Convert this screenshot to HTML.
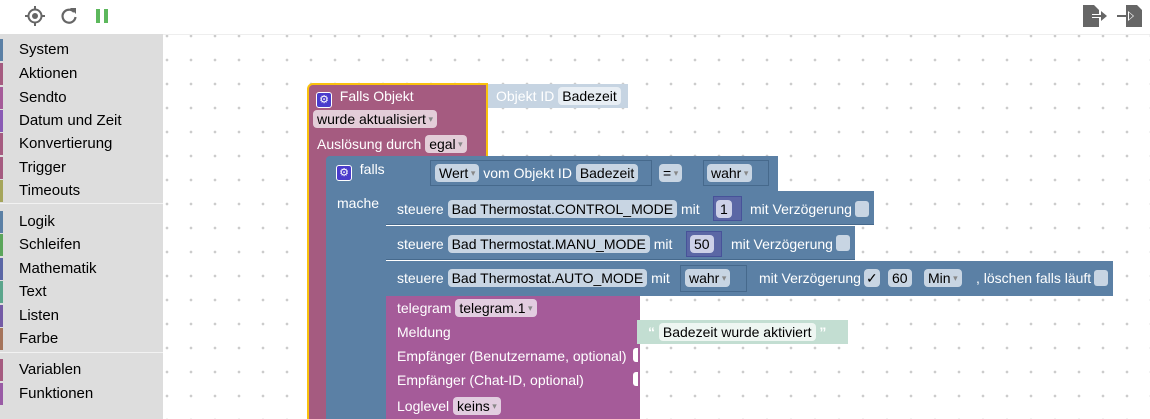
<!DOCTYPE html><html><head><style>
*{box-sizing:border-box;margin:0;padding:0}
body{width:1150px;height:419px;overflow:hidden;position:relative;background:#fff;font-family:"Liberation Sans",sans-serif}
.ws{position:absolute;left:163px;top:34px;width:987px;height:385px;background-color:#fff;background-image:radial-gradient(circle,#ccc 1.1px,transparent 1.6px);background-size:24px 24px;background-position:-8px -11px;border-top:1px solid #eee}
.side{position:absolute;left:0;top:36px;width:163px;height:383px;background:#ddd}
.sbg{position:absolute;left:0;top:34px;width:163px;height:385px;background:#ddd}
.it{position:absolute;left:0;height:22px;width:163px;font-size:15px;color:#000;padding-left:19px;line-height:22px}
.it:before{content:"";position:absolute;left:0;top:0;width:3px;height:22px;background:var(--c)}
.sep{position:absolute;left:0;width:163px;height:1px;background:#f2f2f2}
.b{position:absolute}
.t{position:absolute;color:#fff;font-size:14px;white-space:nowrap;line-height:18px}
.f{display:inline-block;border-radius:4px;padding:0 4px;color:#000;line-height:18px;font-size:14px}
.dd:after{content:" ▾";font-size:9px;color:#888;vertical-align:2px}
.gear{display:inline-block;width:16px;height:16px;background:#4a3ccc;border:1px solid #fff;border-radius:3px;color:#fff;font-size:11px;text-align:center;line-height:14px;vertical-align:-2px}
</style></head><body>
<svg style="position:absolute;left:25px;top:6px" width="20" height="20" viewBox="0 0 20 20"><circle cx="10" cy="10" r="6.5" fill="none" stroke="#666" stroke-width="2"/><circle cx="10" cy="10" r="3" fill="#666"/><path d="M10 0v4M10 16v4M0 10h4M16 10h4" stroke="#666" stroke-width="2"/></svg>
<svg style="position:absolute;left:60px;top:7px" width="18" height="18" viewBox="0 0 18 18"><path d="M14 5A6.5 6.5 0 1 0 15.5 10" fill="none" stroke="#666" stroke-width="2.2"/><path d="M10 1h6v6z" fill="#666"/></svg>
<div style="position:absolute;left:96px;top:9px;width:4px;height:14px;background:#5cb85c"></div>
<div style="position:absolute;left:104px;top:9px;width:4px;height:14px;background:#5cb85c"></div>
<svg style="position:absolute;left:1083px;top:5px" width="26" height="22" viewBox="0 0 26 22"><path d="M0 0h11l5 5v17H0z" fill="#666"/><path d="M9 11h11" stroke="#fff" stroke-width="4"/><path d="M9 11h11" stroke="#666" stroke-width="2"/><path d="M18 6l6 5-6 5z" fill="#666"/></svg>
<svg style="position:absolute;left:1117px;top:5px" width="26" height="22" viewBox="0 0 26 22"><path d="M9 0h11l5 5v17H9z" fill="#666"/><path d="M0 11h13" stroke="#666" stroke-width="2"/><path d="M11 6l6 5-6 5z" fill="#fff"/><path d="M12 7.5l4 3.5-4 3.5z" fill="#666"/></svg>
<div class="ws"></div>
<div class="sbg"></div>
<div class="side">
<div class="it" style="top:3px;--c:#5b80a5">System</div>
<div class="it" style="top:27px;--c:#a55b80">Aktionen</div>
<div class="it" style="top:51px;--c:#a55b99">Sendto</div>
<div class="it" style="top:74px;--c:#8a5bb5">Datum und Zeit</div>
<div class="it" style="top:97px;--c:#a55b80">Konvertierung</div>
<div class="it" style="top:121px;--c:#a55b80">Trigger</div>
<div class="it" style="top:144px;--c:#a5a55b">Timeouts</div>
<div class="sep" style="top:167px"></div>
<div class="it" style="top:175px;--c:#5b80a5">Logik</div>
<div class="it" style="top:198px;--c:#5ba55b">Schleifen</div>
<div class="it" style="top:222px;--c:#5b67a5">Mathematik</div>
<div class="it" style="top:245px;--c:#5ba58c">Text</div>
<div class="it" style="top:269px;--c:#745ba5">Listen</div>
<div class="it" style="top:292px;--c:#a5745b">Farbe</div>
<div class="sep" style="top:316px"></div>
<div class="it" style="top:323px;--c:#a55b80">Variablen</div>
<div class="it" style="top:347px;--c:#995ba5">Funktionen</div>
</div>
<!-- Objekt ID block -->
<div class="b" style="left:484px;top:84px;width:144px;height:24px;background:#c6d4e2"></div>
<div class="t" style="left:496px;top:87px;color:#fff">Objekt ID <span class="f" style="background:#e8eef4">Badezeit</span></div>
<!-- outer trigger block -->
<div class="b" style="left:307px;top:83px;width:181px;height:74px;background:#a55b80;border:2px solid #f9c10e;border-bottom:none;border-radius:6px 0 0 0"></div>
<div class="b" style="left:307px;top:150px;width:21px;height:269px;background:#a55b80;border-left:2px solid #f9c10e"></div>
<div class="t" style="left:316px;top:87px"><span class="gear">⚙</span>&nbsp; Falls Objekt</div>
<div class="t" style="left:313px;top:110px"><span class="f dd" style="background:#e3cdd8">wurde aktualisiert</span></div>
<div class="t" style="left:317px;top:135px">Auslösung durch <span class="f dd" style="background:#e3cdd8">egal</span></div>
<!-- falls block -->
<div class="b" style="left:326px;top:156px;width:452px;height:35px;background:#5b80a5;border-radius:4px 0 0 0"></div>
<div class="b" style="left:326px;top:190px;width:60px;height:229px;background:#5b80a5"></div>
<div class="t" style="left:336px;top:160px"><span class="gear">⚙</span>&nbsp; falls</div>
<div class="t" style="left:337px;top:194px">mache</div>
<div class="b" style="left:430px;top:160px;width:222px;height:26px;background:#5b80a5;border:1px solid #46698c"></div>
<div class="t" style="left:435px;top:164px"><span class="f dd" style="background:#c8d5e3">Wert</span> vom Objekt ID <span class="f" style="background:#c8d5e3">Badezeit</span></div>
<div class="t" style="left:659px;top:164px"><span class="f dd" style="background:#c8d5e3">=</span></div>
<div class="b" style="left:703px;top:160px;width:66px;height:26px;background:#5b80a5;border:1px solid #46698c"></div>
<div class="t" style="left:707px;top:164px"><span class="f dd" style="background:#c8d5e3">wahr</span></div>
<!-- steuere rows -->
<div class="b" style="left:386px;top:191px;width:488px;height:34px;background:#5b80a5;border-bottom:1px solid #46698c"></div>
<div class="t" style="left:397px;top:200px">steuere <span class="f" style="background:#c8d5e3">Bad Thermostat.CONTROL_MODE</span> mit</div>
<div class="b" style="left:713px;top:196px;width:29px;height:25px;background:#5b67a5;border:1px solid #475299"></div>
<div class="t" style="left:716px;top:200px"><span class="f" style="background:#cdd1e8">1</span></div>
<div class="t" style="left:750px;top:200px">mit Verzögerung</div>
<div class="b" style="left:855px;top:201px;width:14px;height:16px;background:#c8d5e3;border-radius:3px"></div>
<div class="b" style="left:386px;top:226px;width:469px;height:34px;background:#5b80a5;border-bottom:1px solid #46698c"></div>
<div class="t" style="left:397px;top:235px">steuere <span class="f" style="background:#c8d5e3">Bad Thermostat.MANU_MODE</span> mit</div>
<div class="b" style="left:686px;top:231px;width:36px;height:26px;background:#5b67a5;border:1px solid #475299"></div>
<div class="t" style="left:690px;top:235px"><span class="f" style="background:#cdd1e8">50</span></div>
<div class="t" style="left:731px;top:235px">mit Verzögerung</div>
<div class="b" style="left:836px;top:235px;width:14px;height:16px;background:#c8d5e3;border-radius:3px"></div>
<div class="b" style="left:386px;top:261px;width:727px;height:35px;background:#5b80a5"></div>
<div class="t" style="left:397px;top:269px">steuere <span class="f" style="background:#c8d5e3">Bad Thermostat.AUTO_MODE</span> mit</div>
<div class="b" style="left:680px;top:265px;width:67px;height:27px;background:#5b80a5;border:1px solid #46698c"></div>
<div class="t" style="left:685px;top:269px"><span class="f dd" style="background:#c8d5e3">wahr</span></div>
<div class="t" style="left:759px;top:269px">mit Verzögerung</div>
<div class="t" style="left:864px;top:269px"><span class="f" style="background:#c8d5e3;padding:0 2px">✓</span></div>
<div class="t" style="left:888px;top:269px"><span class="f" style="background:#c8d5e3">60</span></div>
<div class="t" style="left:924px;top:269px"><span class="f dd" style="background:#c8d5e3">Min</span></div>
<div class="t" style="left:976px;top:269px">, löschen falls läuft</div>
<div class="b" style="left:1094px;top:270px;width:14px;height:16px;background:#c8d5e3;border-radius:3px"></div>
<!-- telegram -->
<div class="b" style="left:386px;top:296px;width:254px;height:123px;background:#a55b99"></div>
<div class="t" style="left:397px;top:299px">telegram <span class="f dd" style="background:#e2cde0">telegram.1</span></div>
<div class="t" style="left:397px;top:323px">Meldung</div>
<div class="t" style="left:397px;top:347px">Empfänger (Benutzername, optional)</div>
<div class="t" style="left:397px;top:371px">Empfänger (Chat-ID, optional)</div>
<div class="t" style="left:397px;top:397px">Loglevel <span class="f dd" style="background:#e2cde0">keins</span></div>
<div class="b" style="left:633px;top:348px;width:5px;height:14px;background:#fff;border-radius:3px 0 0 3px"></div>
<div class="b" style="left:633px;top:372px;width:5px;height:14px;background:#fff;border-radius:3px 0 0 3px"></div>
<div class="b" style="left:637px;top:320px;width:211px;height:24px;background:#c3ded2"></div>
<div class="t" style="left:648px;top:323px;color:#fff;font-weight:bold">“ <span class="f" style="background:#eef6f2;font-weight:normal">Badezeit wurde aktiviert</span> ”</div>
</body></html>
